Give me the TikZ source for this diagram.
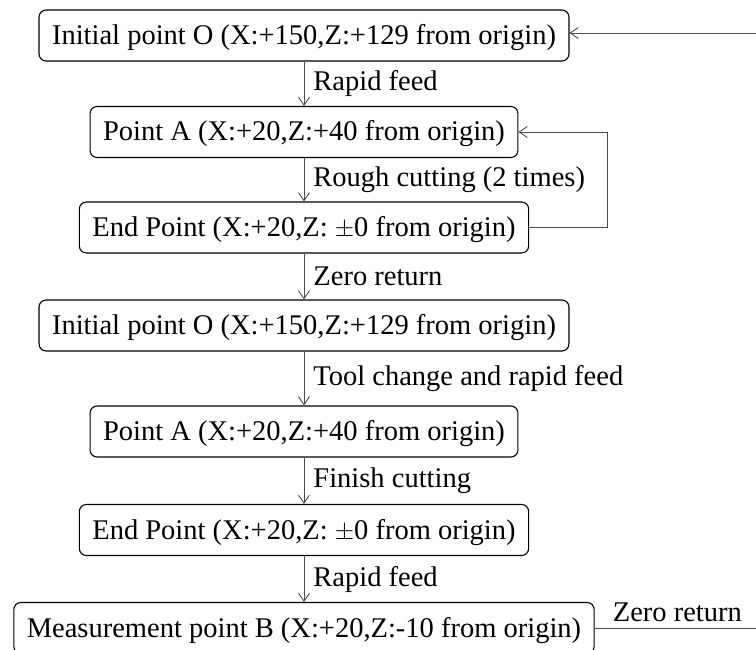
\documentclass[tikz,border=0pt]{standalone}
\usepackage{fontspec}
\setmainfont{Liberation Serif}
\usetikzlibrary{arrows.meta}
\begin{document}
\begin{tikzpicture}[x=1pt,y=-1pt,
  box/.style={draw=black, line width=1.1pt, rounded corners=7pt, inner xsep=13pt, inner ysep=0pt,
    minimum height=51pt, text height=22pt, text depth=4pt},
  conn/.style={draw=black!70, line width=0.9pt},
  arr/.style={conn, -{Straight Barb[length=8pt,width=11pt,line width=0.9pt]}},
  lab/.style={anchor=west, inner sep=9pt},
  every node/.style={font=\fontsize{28.5}{34}\selectfont}]
\useasboundingbox (0,0) rectangle (756,650);
\node[box] (n1) at (304,35.5) {Initial point O (X:+150,Z:+129 from origin)};
\node[box] (n2) at (304,132) {Point A (X:+20,Z:+40 from origin)};
\node[box] (n3) at (304,227.5) {End Point (X:+20,Z: $\pm$0 from origin)};
\node[box] (n4) at (304,325.5) {Initial point O (X:+150,Z:+129 from origin)};
\node[box] (n5) at (304,431.5) {Point A (X:+20,Z:+40 from origin)};
\node[box] (n6) at (304,530) {End Point (X:+20,Z: $\pm$0 from origin)};
\node[box] (n7) at (304,628) {Measurement point B (X:+20,Z:-10 from origin)};
\coordinate (tr) at (760,33);
\coordinate (lx) at (607,0);
\coordinate (br) at (760,628);
\draw[arr] (n1) -- node[lab, midway] {Rapid feed} (n2);
\draw[arr] (n2) -- node[lab, midway] {Rough cutting (2 times)} (n3);
\draw[arr] (n3) -- node[lab, midway] {Zero return} (n4);
\draw[arr] (n4) -- node[lab, midway] {Tool change and rapid feed} (n5);
\draw[arr] (n5) -- node[lab, midway] {Finish cutting} (n6);
\draw[arr] (n6) -- node[lab, midway] {Rapid feed} (n7);
\draw[arr] (n3.east) -- (n3.east -| lx) |- (n2.east);
\draw[arr] (tr) -- (tr -| n1.east);
\draw[conn] (n7.east) -- node[above, inner sep=6pt, midway] {Zero return} (br);
\end{tikzpicture}
\end{document}
